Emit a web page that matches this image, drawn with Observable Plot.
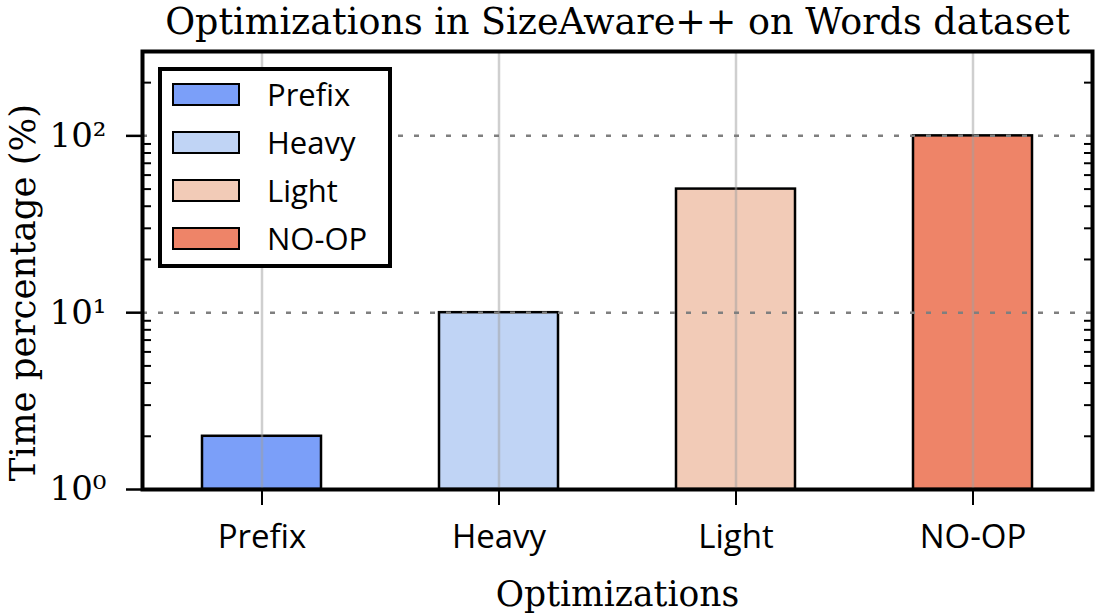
<!DOCTYPE html>
<html>
<head>
<meta charset="utf-8">
<script src="https://cdn.jsdelivr.net/npm/d3@7"></script>
<script src="https://cdn.jsdelivr.net/npm/@observablehq/plot@0.6"></script>
<style>
  body { margin: 0; background: #fff; }
  #chart { position: relative; width: 1095px; height: 613px; }
  .legend {
    position: absolute; left: 158px; top: 67px; width: 234px; height: 201px;
    box-sizing: border-box; border: 4px solid #000; background: #fff; padding-left: 10px;
  }
  .legend .row { height: 47.8px; display: flex; align-items: center; }
  .legend .sw { width: 68px; height: 23px; box-sizing: border-box; border: 2px solid #000; margin-right: 27px; }
  .legend .lab { font-family: "Open Sans"; font-size: 31px; line-height: 1; color: #000; }
</style>
</head>
<body>
<div id="chart"></div>
<script>
// Relative running time of each optimization (percent of NO-OP)
const methods = ["Prefix", "Heavy", "Light", "NO-OP"];
const timePct = [2, 10, 50, 100];
const colors = ["#7b9ff9", "#c0d4f5", "#f2cbb7", "#ee8468"];

// Log axis ticks
const yTicks = [1, 10, 100];
const yTickLabels = ["10⁰", "10¹", "10²"];
const yMinor = [2, 3, 4, 5, 6, 7, 8, 9, 20, 30, 40, 50, 60, 70, 80, 90, 200];
const yGrid = [10, 100];

const title = "Optimizations in SizeAware++ on Words dataset";
const xLabel = "Optimizations";
const yLabel = "Time percentage (%)";

const rows = methods.map((m, i) => ({method: m, value: timePct[i]}));
const serif = "DejaVu Serif";
const sans = "Open Sans";

const chart = Plot.plot({
  width: 1095,
  height: 613,
  marginLeft: 142,
  marginRight: 3,
  marginTop: 51,
  marginBottom: 124,
  style: {background: "#fff", color: "#000", overflow: "visible"},
  x: {domain: methods, paddingInner: 0.5, paddingOuter: 0.25, axis: null},
  y: {type: "log", domain: [1, 300], axis: null},
  color: {domain: methods, range: colors},
  marks: [
    Plot.barY(rows, {x: "method", y1: 1, y2: "value", fill: "method", stroke: "#000", strokeWidth: 2.5}),
    Plot.gridX({stroke: "#a0a0a0", strokeOpacity: 0.5, strokeWidth: 2.5}),
    Plot.gridY(yGrid, {stroke: "#7f7f7f", strokeOpacity: 1, strokeWidth: 2.5, strokeDasharray: "5,11"}),
    Plot.axisY(yTicks, {
      anchor: "left", tickSize: 16, tickPadding: 20, strokeWidth: 2.5, label: null,
      tickFormat: d => yTickLabels[yTicks.indexOf(d)], fontSize: 34, fontFamily: serif
    }),
    Plot.axisY(yMinor, {anchor: "left", tickSize: 9, dx: 9, strokeWidth: 2, tickFormat: () => "", label: null}),
    Plot.axisY(yMinor, {anchor: "right", tickSize: 9, dx: -9, strokeWidth: 2, tickFormat: () => "", label: null}),
    Plot.axisX({tickSize: 16, tickPadding: 19, strokeWidth: 2, fontSize: 33, fontFamily: sans, label: null}),
    Plot.frame({stroke: "#000", strokeWidth: 4}),
    Plot.text([title], {frameAnchor: "top", lineAnchor: "bottom", dy: -18, fontSize: 36.5, fontFamily: serif}),
    Plot.text([xLabel], {frameAnchor: "bottom", lineAnchor: "bottom", dy: 116, fontSize: 34.5, fontFamily: serif}),
    Plot.text([yLabel], {
      frameAnchor: "left", textAnchor: "middle", lineAnchor: "bottom", rotate: -90,
      dx: -108, dy: 22, fontSize: 35.5, fontFamily: serif
    })
  ]
});

const host = document.getElementById("chart");
host.appendChild(chart);

// Legend box inside the axes, upper left
const legend = document.createElement("div");
legend.className = "legend";
methods.forEach((m, i) => {
  const row = document.createElement("div");
  row.className = "row";
  const sw = document.createElement("div");
  sw.className = "sw";
  sw.style.background = colors[i];
  const lab = document.createElement("span");
  lab.className = "lab";
  lab.textContent = m;
  row.appendChild(sw);
  row.appendChild(lab);
  legend.appendChild(row);
});
host.appendChild(legend);
</script>
</body>
</html>
